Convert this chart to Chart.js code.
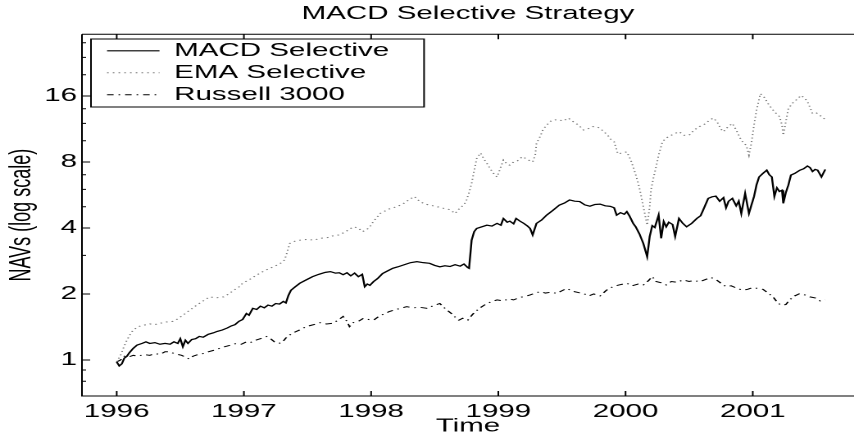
<!DOCTYPE html>
<html><head><meta charset="utf-8">
<script src="https://cdn.jsdelivr.net/npm/chart.js@4/dist/chart.umd.min.js"></script>
<style>
html,body{margin:0;padding:0;background:#fff;overflow:hidden;width:854px;height:441px;}
#wrap{width:521px;height:441px;transform:scaleX(1.63916);transform-origin:0 0;}
canvas{display:block;}
</style></head><body>
<div id="wrap"><canvas id="c" width="521" height="441"></canvas></div>
<script>
const chartTitle = 'MACD Selective Strategy';
const xTitle = 'Time';
const yTitle = 'NAVs (log scale)';
const seriesNames = ['MACD Selective', 'EMA Selective', 'Russell 3000'];
const xTickYears = [1996, 1997, 1998, 1999, 2000, 2001];
const yTickValues = [1, 2, 4, 8, 16];
const yMinorTicks = [0.8, 0.9, 3, 5, 6, 7, 10, 12, 14, 20, 24, 28];

const macdYears = [1996.00,1996.02,1996.04,1996.06,1996.08,1996.10,1996.13,1996.16,1996.20,1996.23,1996.26,1996.30,1996.34,1996.38,1996.42,1996.45,1996.48,1996.50,1996.52,1996.54,1996.56,1996.59,1996.62,1996.65,1996.68,1996.72,1996.76,1996.79,1996.83,1996.87,1996.90,1996.93,1996.96,1996.99,1997.02,1997.04,1997.07,1997.10,1997.13,1997.16,1997.19,1997.22,1997.25,1997.28,1997.31,1997.33,1997.35,1997.37,1997.40,1997.44,1997.49,1997.54,1997.59,1997.64,1997.68,1997.72,1997.75,1997.78,1997.81,1997.84,1997.87,1997.90,1997.93,1997.95,1997.97,1997.99,1998.02,1998.05,1998.09,1998.13,1998.17,1998.21,1998.26,1998.31,1998.36,1998.41,1998.46,1998.50,1998.54,1998.58,1998.62,1998.66,1998.70,1998.73,1998.76,1998.77,1998.79,1998.81,1998.83,1998.87,1998.91,1998.95,1998.99,1999.02,1999.04,1999.07,1999.09,1999.12,1999.14,1999.17,1999.20,1999.23,1999.25,1999.27,1999.30,1999.34,1999.38,1999.43,1999.48,1999.52,1999.56,1999.60,1999.64,1999.68,1999.72,1999.76,1999.80,1999.84,1999.88,1999.91,1999.93,1999.96,1999.99,2000.01,2000.03,2000.06,2000.08,2000.11,2000.14,2000.17,2000.19,2000.21,2000.23,2000.26,2000.28,2000.30,2000.32,2000.34,2000.37,2000.39,2000.42,2000.45,2000.48,2000.52,2000.56,2000.59,2000.61,2000.65,2000.68,2000.71,2000.74,2000.77,2000.79,2000.81,2000.84,2000.87,2000.89,2000.91,2000.94,2000.97,2000.99,2001.01,2001.03,2001.05,2001.08,2001.11,2001.13,2001.15,2001.17,2001.19,2001.21,2001.23,2001.24,2001.26,2001.28,2001.30,2001.33,2001.37,2001.40,2001.43,2001.45,2001.47,2001.49,2001.51,2001.54,2001.57];
const macdValues = [0.98,0.94,0.96,1.02,1.04,1.08,1.13,1.17,1.19,1.21,1.19,1.20,1.18,1.19,1.18,1.21,1.19,1.25,1.15,1.23,1.19,1.24,1.25,1.28,1.27,1.31,1.33,1.35,1.37,1.40,1.43,1.45,1.50,1.53,1.63,1.60,1.72,1.70,1.76,1.73,1.78,1.76,1.81,1.80,1.85,1.82,1.97,2.08,2.15,2.24,2.32,2.40,2.46,2.51,2.53,2.49,2.50,2.45,2.50,2.42,2.49,2.40,2.46,2.16,2.22,2.19,2.28,2.35,2.48,2.55,2.62,2.66,2.72,2.78,2.81,2.78,2.76,2.70,2.66,2.69,2.67,2.72,2.68,2.74,2.64,2.62,3.52,3.85,3.98,4.05,4.12,4.08,4.20,4.12,4.42,4.25,4.30,4.18,4.42,4.30,4.20,4.08,3.98,3.72,4.20,4.35,4.58,4.82,5.09,5.20,5.37,5.30,5.28,5.10,5.03,5.12,5.14,5.05,5.02,4.95,4.58,4.70,4.62,4.75,4.55,4.20,4.05,3.75,3.40,2.96,3.66,4.10,4.02,4.58,3.59,4.28,4.05,4.25,4.15,3.66,4.42,4.20,4.05,4.20,4.42,4.55,4.83,5.46,5.55,5.59,5.30,5.50,4.95,5.30,5.46,5.05,5.30,4.66,5.75,4.66,5.10,5.57,6.30,6.84,7.10,7.34,7.00,6.84,5.57,6.10,5.87,5.95,5.18,5.80,6.28,6.97,7.10,7.34,7.45,7.67,7.55,7.24,7.40,7.34,6.84,7.40];

const emaYears = [1996.00,1996.03,1996.06,1996.08,1996.11,1996.13,1996.17,1996.21,1996.26,1996.30,1996.34,1996.39,1996.44,1996.48,1996.52,1996.57,1996.63,1996.68,1996.73,1996.78,1996.84,1996.88,1996.92,1996.96,1996.99,1997.04,1997.10,1997.16,1997.23,1997.28,1997.32,1997.34,1997.36,1997.40,1997.44,1997.50,1997.55,1997.60,1997.66,1997.71,1997.75,1997.80,1997.86,1997.90,1997.93,1997.96,1997.99,1998.02,1998.05,1998.07,1998.10,1998.14,1998.20,1998.25,1998.30,1998.34,1998.38,1998.42,1998.46,1998.52,1998.57,1998.62,1998.66,1998.70,1998.73,1998.75,1998.77,1998.79,1998.81,1998.83,1998.86,1998.89,1998.91,1998.94,1998.97,1998.99,1999.02,1999.04,1999.07,1999.09,1999.12,1999.15,1999.19,1999.23,1999.27,1999.29,1999.30,1999.33,1999.35,1999.38,1999.42,1999.47,1999.51,1999.55,1999.59,1999.63,1999.67,1999.70,1999.74,1999.77,1999.80,1999.83,1999.86,1999.88,1999.91,1999.94,1999.97,2000.01,2000.04,2000.06,2000.08,2000.10,2000.12,2000.14,2000.16,2000.17,2000.19,2000.20,2000.22,2000.24,2000.26,2000.29,2000.32,2000.36,2000.39,2000.42,2000.46,2000.50,2000.54,2000.58,2000.62,2000.66,2000.69,2000.72,2000.75,2000.77,2000.80,2000.84,2000.87,2000.90,2000.92,2000.95,2000.97,2000.99,2001.01,2001.03,2001.06,2001.09,2001.12,2001.15,2001.18,2001.21,2001.23,2001.24,2001.26,2001.28,2001.31,2001.35,2001.38,2001.41,2001.43,2001.45,2001.47,2001.50,2001.54,2001.57];
const emaValues = [0.98,1.05,1.16,1.23,1.32,1.37,1.42,1.44,1.46,1.45,1.47,1.49,1.50,1.54,1.60,1.68,1.78,1.86,1.94,1.92,1.94,2.00,2.08,2.15,2.24,2.32,2.44,2.55,2.66,2.74,2.86,3.10,3.40,3.48,3.52,3.55,3.52,3.59,3.62,3.70,3.72,3.85,4.05,4.00,3.85,3.91,4.05,4.30,4.50,4.66,4.75,4.88,5.00,5.15,5.40,5.57,5.30,5.15,5.09,5.00,4.92,4.85,4.66,4.95,5.10,5.37,5.80,6.39,7.30,8.30,8.80,8.20,7.89,7.40,7.00,6.84,7.60,8.17,7.80,7.74,8.00,8.10,8.47,8.20,8.00,8.60,9.72,10.5,11.2,11.8,12.4,12.5,12.3,12.7,12.2,11.8,11.2,11.3,11.6,11.6,11.4,11.0,10.6,10.2,9.9,8.70,8.80,8.90,8.20,7.60,7.00,6.39,5.70,5.00,4.40,4.12,5.00,5.96,6.80,7.60,8.60,9.90,10.3,10.6,10.8,11.0,10.6,10.6,11.2,11.6,11.9,12.4,12.7,12.2,11.3,11.0,11.5,12.0,11.2,10.3,9.90,9.50,8.60,9.80,11.8,13.8,16.4,15.8,14.8,14.0,13.4,12.9,11.8,10.6,12.2,14.0,14.8,15.5,16.1,15.6,15.1,14.2,13.3,13.4,12.9,12.5];

const russellYears = [1996.00,1996.03,1996.06,1996.09,1996.13,1996.17,1996.21,1996.26,1996.30,1996.34,1996.38,1996.42,1996.45,1996.48,1996.51,1996.54,1996.57,1996.60,1996.64,1996.68,1996.72,1996.77,1996.81,1996.85,1996.90,1996.94,1996.98,1997.02,1997.05,1997.09,1997.13,1997.18,1997.21,1997.24,1997.27,1997.30,1997.33,1997.36,1997.40,1997.45,1997.49,1997.53,1997.57,1997.60,1997.65,1997.70,1997.74,1997.78,1997.81,1997.83,1997.86,1997.90,1997.94,1997.98,1998.02,1998.06,1998.10,1998.14,1998.18,1998.23,1998.28,1998.33,1998.38,1998.44,1998.49,1998.54,1998.58,1998.63,1998.66,1998.69,1998.72,1998.76,1998.80,1998.85,1998.89,1998.94,1998.99,1999.04,1999.08,1999.12,1999.17,1999.21,1999.25,1999.29,1999.33,1999.37,1999.42,1999.46,1999.50,1999.54,1999.58,1999.63,1999.67,1999.71,1999.75,1999.80,1999.85,1999.90,1999.95,2000.01,2000.05,2000.10,2000.14,2000.18,2000.21,2000.24,2000.28,2000.32,2000.36,2000.41,2000.45,2000.50,2000.54,2000.58,2000.63,2000.67,2000.71,2000.75,2000.79,2000.83,2000.88,2000.92,2000.96,2001.00,2001.04,2001.08,2001.12,2001.16,2001.19,2001.22,2001.26,2001.29,2001.33,2001.37,2001.41,2001.45,2001.49,2001.53,2001.57];
const russellValues = [0.98,1.00,1.04,1.03,1.05,1.04,1.06,1.05,1.07,1.06,1.09,1.09,1.07,1.06,1.05,1.03,1.01,1.04,1.06,1.07,1.09,1.11,1.13,1.15,1.17,1.19,1.18,1.21,1.20,1.23,1.25,1.28,1.25,1.21,1.19,1.20,1.26,1.30,1.34,1.38,1.42,1.44,1.46,1.48,1.46,1.47,1.52,1.58,1.50,1.42,1.48,1.50,1.55,1.53,1.52,1.58,1.62,1.66,1.69,1.72,1.75,1.73,1.74,1.72,1.77,1.81,1.72,1.63,1.57,1.52,1.55,1.52,1.62,1.72,1.78,1.84,1.88,1.86,1.90,1.88,1.93,1.95,1.98,2.02,2.05,2.02,2.04,2.01,2.07,2.12,2.06,2.03,2.01,1.96,2.00,1.96,2.08,2.16,2.20,2.24,2.18,2.22,2.20,2.30,2.40,2.28,2.25,2.20,2.28,2.26,2.32,2.28,2.31,2.27,2.33,2.38,2.33,2.24,2.16,2.18,2.12,2.08,2.10,2.14,2.12,2.10,2.02,1.94,1.84,1.78,1.79,1.88,1.96,2.01,1.98,1.94,1.92,1.86,1.88];

const FONT = 'Liberation Sans, Arial, Helvetica, sans-serif';
const toPoints = (xs, ys) => xs.map((x, i) => ({ x: x, y: ys[i] }));

const framePlugin = {
  id: 'matlabFrame',
  afterLayout(chart) {
    const a = chart.chartArea, lg = chart.legend;
    if (lg) {
      lg.left = a.left + 11.3; lg.top = a.top + 3.5;
      lg.width = 260; lg.height = 100;
      lg.right = lg.left + 260; lg.bottom = lg.top + 100;
    }
  },
  afterDraw(chart) {
    const { ctx, chartArea: a } = chart;
    const xs = chart.scales.x, ys = chart.scales.y;
    ctx.save();
    ctx.strokeStyle = '#000';
    ctx.lineWidth = 1;
    ctx.setLineDash([]);
    ctx.beginPath();
    ctx.moveTo(a.left, a.top); ctx.lineTo(a.right, a.top);
    ctx.moveTo(a.left, a.top); ctx.lineTo(a.left, a.bottom); ctx.lineTo(a.right, a.bottom);
    xTickYears.forEach(v => {
      const px = xs.getPixelForValue(v);
      ctx.moveTo(px, a.bottom); ctx.lineTo(px, a.bottom - 5);
      ctx.moveTo(px, a.top); ctx.lineTo(px, a.top + 5);
    });
    yTickValues.forEach(v => {
      const py = ys.getPixelForValue(v);
      ctx.moveTo(a.left, py); ctx.lineTo(a.left + 5, py);
    });
    yMinorTicks.forEach(v => {
      const py = ys.getPixelForValue(v);
      ctx.moveTo(a.left, py); ctx.lineTo(a.left + 2.5, py);
    });
    ctx.stroke();
    ctx.strokeRect(a.left + 5.5, a.top + 4.7, 203.2, 68);
    ctx.restore();
  }
};

new Chart(document.getElementById('c'), {
  type: 'line',
  data: {
    datasets: [
      { label: seriesNames[0], data: toPoints(macdYears, macdValues), borderColor: '#000', borderWidth: 1.2, borderDash: [] },
      { label: seriesNames[1], data: toPoints(emaYears, emaValues), borderColor: '#777', borderWidth: 1, borderDash: [1, 2.5] },
      { label: seriesNames[2], data: toPoints(russellYears, russellValues), borderColor: '#000', borderWidth: 1, borderDash: [4, 3, 1, 3] }
    ]
  },
  options: {
    responsive: false,
    animation: false,
    devicePixelRatio: 2,
    layout: { padding: 0 },
    elements: { point: { radius: 0 }, line: { tension: 0, fill: false } },
    plugins: {
      title: {
        display: true, text: chartTitle, color: '#000', fullSize: false,
        font: { family: FONT, size: 18, weight: 'normal' },
        padding: { top: 3, bottom: 9.7 }
      },
      legend: {
        display: true, position: 'chartArea', align: 'start', fullSize: false,
        labels: {
          usePointStyle: true, pointStyleWidth: 32, padding: 4, color: '#000',
          font: { family: FONT, size: 18 },
          generateLabels(chart) {
            return chart.data.datasets.map((ds, i) => ({
              text: ds.label, fontColor: '#000', strokeStyle: ds.borderColor, fillStyle: ds.borderColor,
              lineWidth: ds.borderWidth, lineDash: ds.borderDash, pointStyle: 'line', hidden: false, datasetIndex: i
            }));
          }
        }
      },
      tooltip: { enabled: false }
    },
    scales: {
      x: {
        type: 'linear', min: 1995.727, max: 2001.796, bounds: 'data',
        grid: { display: false, drawTicks: false },
        border: { display: false },
        afterBuildTicks(s) { s.ticks = xTickYears.map(v => ({ value: v })); },
        afterFit(s) { s.height = 45; },
        ticks: {
          autoSkip: false, maxRotation: 0, padding: 5, color: '#000',
          font: { family: FONT, size: 18 },
          callback: v => String(v)
        },
        title: { display: true, text: xTitle, color: '#000', font: { family: FONT, size: 18 }, padding: { top: 0, bottom: 3.7 } }
      },
      y: {
        type: 'logarithmic', min: 0.685, max: 30.6, bounds: 'data',
        grid: { display: false, drawTicks: false },
        border: { display: false },
        afterBuildTicks(s) { s.ticks = yTickValues.map(v => ({ value: v })); },
        afterFit(s) { s.width = 50; },
        ticks: {
          autoSkip: false, padding: 3, color: '#000',
          font: { family: FONT, size: 18 },
          callback: v => String(v)
        },
        title: { display: true, text: yTitle, color: '#000', font: { family: FONT, size: 18 }, padding: { top: 2.5, bottom: 0 } }
      }
    }
  },
  plugins: [framePlugin]
});
</script>
</body></html>
